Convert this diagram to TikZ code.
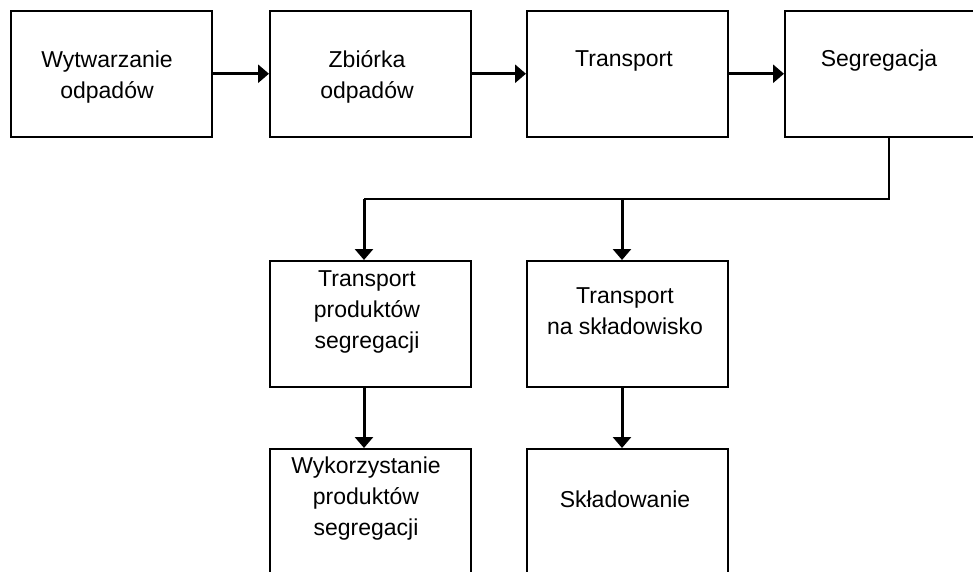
\documentclass[tikz,border=0pt]{standalone}
\usepackage{fontspec}
\setmainfont{Liberation Sans}
\usetikzlibrary{arrows.meta}
\begin{document}
\begin{tikzpicture}[x=1pt,y=-1pt,
  box/.style={draw,line width=1.5pt,minimum width=201pt,minimum height=126pt,inner sep=0pt,anchor=north west},
  lbl/.style={font=\fontsize{23}{31}\selectfont,align=center,inner sep=0pt},
  arr/.style={line width=3pt,-{Triangle[length=11pt,width=18pt]}},
  thinline/.style={line width=1.3pt}]
\useasboundingbox (0,0) rectangle (973,571);
\fill[white] (0,0) rectangle (973,571);
\clip (0,0) rectangle (973,571);
% boxes
\node[box] (b1) at (10,10) {};
\node[box] (b2) at (269,10) {};
\node[box] (b3) at (526,10) {};
\node[box] (b4) at (784,10) {};
\node[box] (b5) at (269,260) {};
\node[box] (b6) at (526,260) {};
\node[box] (b7) at (269,448) {};
\node[box] (b8) at (526,448) {};
% texts
\node[lbl] (t1) at (107,77) {Wytwarzanie\\odpadów};
\node[lbl] (t2) at (367,77) {Zbiórka\\odpadów};
\node[lbl] (t3) at (624,61) {Transport};
\node[lbl] (t4) at (879,61) {Segregacja};
\node[lbl] (t5) at (367,312) {Transport\\produktów\\segregacji};
\node[lbl] (t6) at (625,311) {Transport\\na składowisko};
\node[lbl] (t7) at (366,499) {Wykorzystanie\\produktów\\segregacji};
\node[lbl] (t8) at (625,499) {Składowanie};
% top arrows
\draw[arr] (b1.east) -- (b2.west);
\draw[arr] (b2.east) -- (b3.west);
\draw[arr] (b3.east) -- (b4.west);
% branch
\coordinate (j) at (889,199);
\coordinate (cl) at (364,199);
\coordinate (cr) at (622,199);
\draw[thinline] (j |- b4.south) -- (j) -- (cl);
\draw[arr] (cl) -- (cl |- b5.north);
\draw[arr] (cr) -- (cr |- b6.north);
\draw[arr] (cl |- b5.south) -- (cl |- b7.north);
\draw[arr] (cr |- b6.south) -- (cr |- b8.north);
\end{tikzpicture}
\end{document}
